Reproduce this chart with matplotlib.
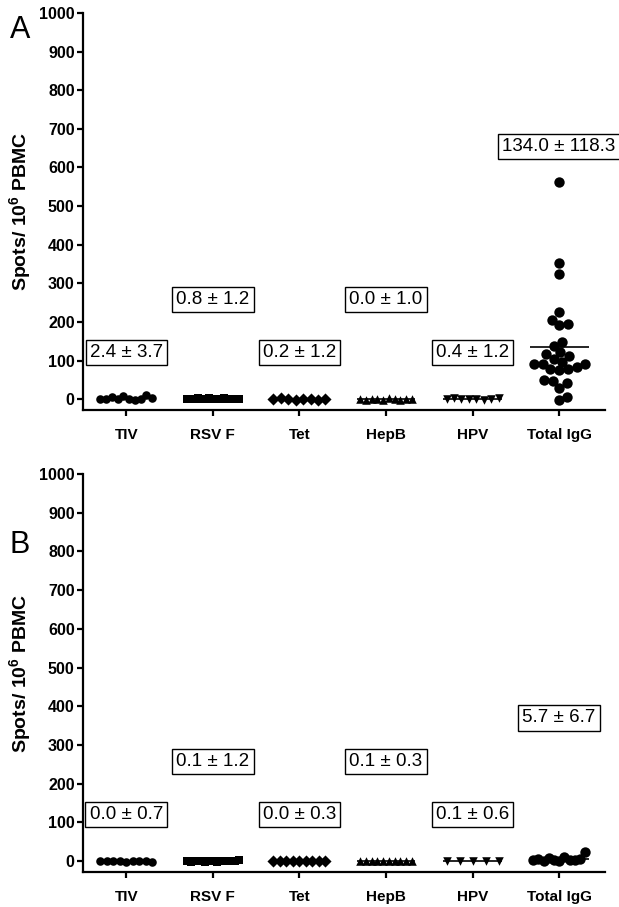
import numpy as np
import matplotlib.pyplot as plt

plt.rcParams['font.family'] = ['Liberation Sans', 'DejaVu Sans']
plt.rcParams['mathtext.fontset'] = 'custom'
plt.rcParams['mathtext.rm'] = 'Liberation Sans'
plt.rcParams['mathtext.bf'] = 'Liberation Sans:bold'

groups = ['TIV', 'RSV F', 'Tet', 'HepB', 'HPV', 'Total IgG']
markers = ['o', 's', 'D', '^', 'v', 'o']

# panel A values (spots / 10^6 PBMC)
a_tiv = [0, 0, 5, 0, 7, 0, -1, 1, 10, 2]
a_rsv = [0, 1, 0, 2, 0, 0, 3, 1, 0, 0, 3, 0, 1, 0, 1]
a_tet = [0, 2, 0, -1, 0, 1, -1, 1]
a_hepb = [0, -2, 1, 0, -1, 2, 0, -1, 0, 1]
a_hpv = [0, 2, 0, 1, 0, -1, 0, 2]
a_igg = [563, 352, 324, 226, 194, 192, 205, 138, 147, 111, 118, 121, 105,
         92, 79, 79, 75, 92, 84, 92, 97, 49, 41, 30, 47, 6, -3]
a_labels = ['2.4 ± 3.7', '0.8 ± 1.2', '0.2 ± 1.2', '0.0 ± 1.0', '0.4 ± 1.2', '134.0 ± 118.3']
a_label_y = [120, 258, 120, 258, 120, 655]

# panel B values
b_tiv = [0, 0, 1, 0, -1, 0, 1, 0, -1]
b_rsv = [0, -1, 0, 0, 1, -1, 0, 0, -2, 0, 1, 0, 0, 0, 4]
b_tet = [0, 0, 0, 0, 0.5, 0, -0.5, 0, 0]
b_hepb = [0, 0, 0, 0, 0, 1, 0, 0, 0, 0]
b_hpv = [0, 0, 1, -0.5, 0]
b_igg = [2, 5, 1, 8, 3, 0, 10, 4, 2, 6, 23]
b_labels = ['0.0 ± 0.7', '0.1 ± 1.2', '0.0 ± 0.3', '0.1 ± 0.3', '0.1 ± 0.6', '5.7 ± 6.7']
b_label_y = [120, 258, 120, 258, 120, 370]

W, H = 619, 907
XLIM = (-0.5, 5.53)
YLIM = (-28, 1000)


def swarm(vals, d_px, xscale, yscale, width):
    # simple beeswarm, squeezed to the max group width
    vals = np.asarray(vals, float)
    n = len(vals)
    if np.ptp(vals) * yscale < d_px * 1.2:
        return np.linspace(-width / 2, width / 2, n)
    xs = np.zeros(n)
    placed = []
    for i in np.argsort(vals):
        y = vals[i] * yscale
        cands = [0.0]
        for px, py in placed:
            dy = y - py
            if abs(dy) < d_px:
                dx = np.sqrt(d_px ** 2 - dy ** 2)
                cands += [px + dx, px - dx]
        cands.sort(key=abs)
        for c in cands:
            if all((c - px) ** 2 + (y - py) ** 2 >= d_px ** 2 - 1e-6 for px, py in placed):
                xs[i] = c
                placed.append((c, y))
                break
    xs = xs / xscale
    m = np.abs(xs).max()
    if m > width / 2:
        xs *= width / 2 / m
    return xs


def panel(rect, data, labels, label_y):
    ax = fig.add_axes(rect)
    ax.set_xlim(XLIM)
    ax.set_ylim(YLIM)
    xscale = rect[2] * W / (XLIM[1] - XLIM[0])
    yscale = rect[3] * H / (YLIM[1] - YLIM[0])
    for i, vals in enumerate(data):
        big = groups[i] == 'Total IgG'
        size = 56 if big else 38
        d_px = 9 if big else 7
        off = swarm(vals, d_px, xscale, yscale, 0.6)
        ax.scatter(i + off, vals, s=size, marker=markers[i], color='black',
                   linewidths=0, zorder=3)
        ax.hlines(np.mean(vals), i - 0.34, i + 0.34, color='black', lw=1.2, zorder=2)
        ax.text(i, label_y[i], labels[i], ha='center', va='center', fontsize=13.5,
                bbox=dict(boxstyle='square,pad=0.22', fc='white', ec='black', lw=1),
                clip_on=False, zorder=5)
    for s in ['top', 'right']:
        ax.spines[s].set_visible(False)
    for s in ['left', 'bottom']:
        ax.spines[s].set_linewidth(1.6)
    ax.set_yticks(range(0, 1001, 100))
    ax.set_xticks(range(len(groups)))
    ax.set_xticklabels(groups, fontweight='bold', fontsize=11)
    for t in ax.get_yticklabels():
        t.set_fontweight('bold')
        t.set_fontsize(11.5)
    ax.tick_params(axis='y', length=4, width=1.6, pad=2)
    ax.tick_params(axis='x', length=4, width=1.6, pad=9)
    ax.set_ylabel('Spots/ $\\mathbf{10^{6}}$ PBMC', fontweight='bold', fontsize=14,
                  va='center')
    ax.yaxis.set_label_coords(-0.121, 0.5)
    return ax


fig = plt.figure(figsize=(W / 100, H / 100), dpi=100)
panel([83 / W, (H - 410) / H, 522 / W, 397 / H],
      [a_tiv, a_rsv, a_tet, a_hepb, a_hpv, a_igg], a_labels, a_label_y)
panel([83 / W, (H - 872) / H, 522 / W, 398 / H],
      [b_tiv, b_rsv, b_tet, b_hepb, b_hpv, b_igg], b_labels, b_label_y)
fig.text(10 / W, 1 - 30 / H, 'A', fontsize=22, va='center', ha='left')
fig.text(10 / W, 1 - 545 / H, 'B', fontsize=22, va='center', ha='left')

fig.savefig('out.png', dpi=100)
